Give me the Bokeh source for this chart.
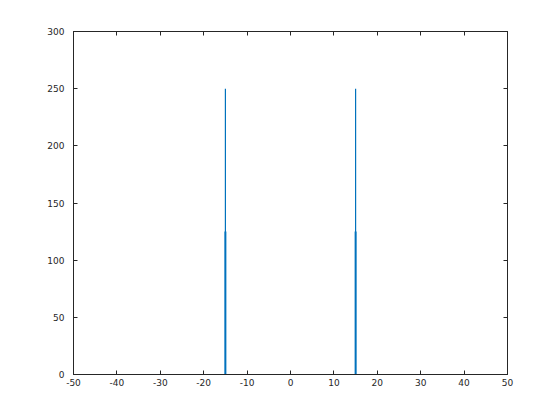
from bokeh.plotting import figure
from bokeh.models import LinearAxis, SingleIntervalTicker, Range1d, CustomJSTickFormatter
from bokeh.embed import file_html
from bokeh.resources import INLINE

# spectrum trace (frequency, magnitude)
trace_freq = [-50, -15, -15, -15, 15, 15, 15, 50]
trace_mag = [0, 0, 250, 0, 0, 250, 0, 0]
# bar series
bar_freq = [-15, 15]
bar_mag = [125, 125]
x_ticks = [-50, -40, -30, -20, -10, 0, 10, 20, 30, 40, 50]
y_ticks = [0, 50, 100, 150, 200, 250, 300]

BLUE = "#0072BD"
TXT = "#262626"
FONT = "DejaVu Sans"
FS = "9px"

p = figure(width=552, height=412, output_backend="svg", toolbar_location=None,
           x_range=Range1d(-50, 50), y_range=Range1d(0, 300),
           min_border_left=73, min_border_right=45, min_border_top=31, min_border_bottom=38,
           x_axis_location=None, y_axis_location=None)
p.background_fill_color = "white"
p.border_fill_color = "white"
p.outline_line_color = "#262626"
p.outline_line_width = 1
p.xgrid.visible = False
p.ygrid.visible = False

fmt = CustomJSTickFormatter(code="return String(tick);")

def style(ax, labels=True):
    ax.major_tick_in = 4
    ax.major_tick_out = 0
    ax.minor_tick_in = 0
    ax.minor_tick_out = 0
    ax.axis_line_color = "#262626"
    ax.major_tick_line_color = "#262626"
    ax.major_label_text_font = FONT
    ax.major_label_text_font_size = FS
    ax.major_label_text_color = TXT if labels else None
    ax.major_label_standoff = 6
    ax.formatter = fmt

xb = LinearAxis(ticker=x_ticks)
style(xb); xb.major_label_standoff = 4
p.add_layout(xb, "below")
xa = LinearAxis(ticker=x_ticks)
style(xa, labels=False)
p.add_layout(xa, "above")
yl = LinearAxis(ticker=y_ticks)
style(yl); yl.major_label_standoff = 9
p.add_layout(yl, "left")
yr = LinearAxis(ticker=y_ticks)
style(yr, labels=False)
p.add_layout(yr, "right")

p.line(trace_freq, trace_mag, line_color=BLUE, line_width=1.2)
p.vbar(x=bar_freq, top=bar_mag, bottom=0, width=0.45, fill_color=BLUE, line_color=None)

open("out.html", "w").write(file_html(p, INLINE))
